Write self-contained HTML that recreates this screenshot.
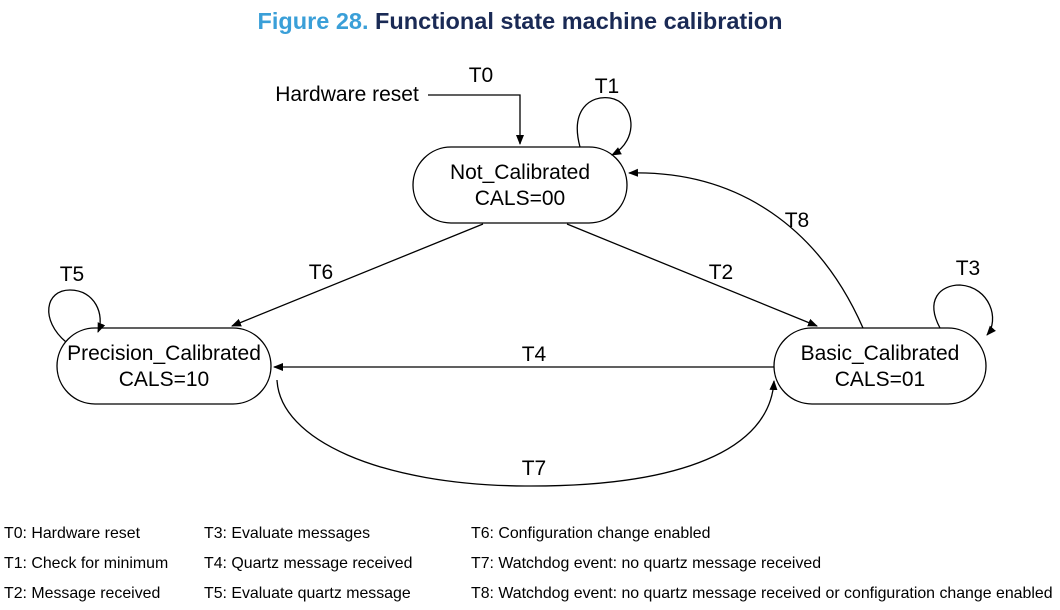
<!DOCTYPE html>
<html><head><style>
body{margin:0;background:#fff;}
svg{display:block;font-family:"Liberation Sans",Arial,sans-serif;}
</style></head><body>
<svg width="1060" height="610" viewBox="0 0 1060 610">
<defs>
<marker id="a" markerWidth="10" markerHeight="10" refX="9" refY="5" orient="auto" markerUnits="userSpaceOnUse">
<path d="M0,1 L10,5 L0,9 Z" fill="#000"/></marker>
</defs>
<text x="520" y="29" text-anchor="middle" font-size="23.5" font-weight="bold"><tspan fill="#3a9fd8">Figure 28.</tspan><tspan fill="#1a2a55"> Functional state machine calibration</tspan></text>
<g fill="none" stroke="#000" stroke-width="1.3">
<rect x="413" y="147" width="214" height="76" rx="38"/>
<rect x="57" y="328" width="214" height="76" rx="38"/>
<rect x="774" y="328" width="212" height="76" rx="38"/>
<path d="M428,95 H520 V144" marker-end="url(#a)"/>
<path d="M580,147 C570,110 590,95 610,98 C635,102 640,140 612,155" marker-end="url(#a)"/>
<path d="M66,342 C40,320 45,290 70,290 C95,290 105,315 98,332" marker-end="url(#a)"/>
<path d="M940,328 C925,300 940,285 960,285 C990,287 1000,320 987,335" marker-end="url(#a)"/>
<path d="M483,224 L232,326" marker-end="url(#a)"/>
<path d="M567,224 L817,326" marker-end="url(#a)"/>
<path d="M863,328 C820,230 740,170 629,173" marker-end="url(#a)"/>
<path d="M774,367 L274,367" marker-end="url(#a)"/>
<path d="M277,380 C280,440 380,485 525,486 C680,487 770,450 774,381" marker-end="url(#a)"/>
</g>
<g font-size="21" fill="#000" text-anchor="middle">
<text x="520" y="179">Not_Calibrated</text>
<text x="520" y="205">CALS=00</text>
<text x="164" y="360">Precision_Calibrated</text>
<text x="164" y="386">CALS=10</text>
<text x="880" y="360">Basic_Calibrated</text>
<text x="880" y="386">CALS=01</text>
<text x="347" y="101">Hardware reset</text>
<text x="481" y="82">T0</text>
<text x="607" y="93">T1</text>
<text x="721" y="279">T2</text>
<text x="968" y="275">T3</text>
<text x="534" y="361">T4</text>
<text x="72" y="281">T5</text>
<text x="321" y="279">T6</text>
<text x="534" y="475">T7</text>
<text x="797" y="227">T8</text>
</g>
<g font-size="15.9" fill="#000">
<text x="4" y="538">T0: Hardware reset</text>
<text x="4" y="568">T1: Check for minimum</text>
<text x="4" y="598">T2: Message received</text>
<text x="204" y="538">T3: Evaluate messages</text>
<text x="204" y="568">T4: Quartz message received</text>
<text x="204" y="598">T5: Evaluate quartz message</text>
<text x="471" y="538">T6: Configuration change enabled</text>
<text x="471" y="568">T7: Watchdog event: no quartz message received</text>
<text x="471" y="598">T8: Watchdog event: no quartz message received or configuration change enabled</text>
</g>
</svg>
</body></html>
